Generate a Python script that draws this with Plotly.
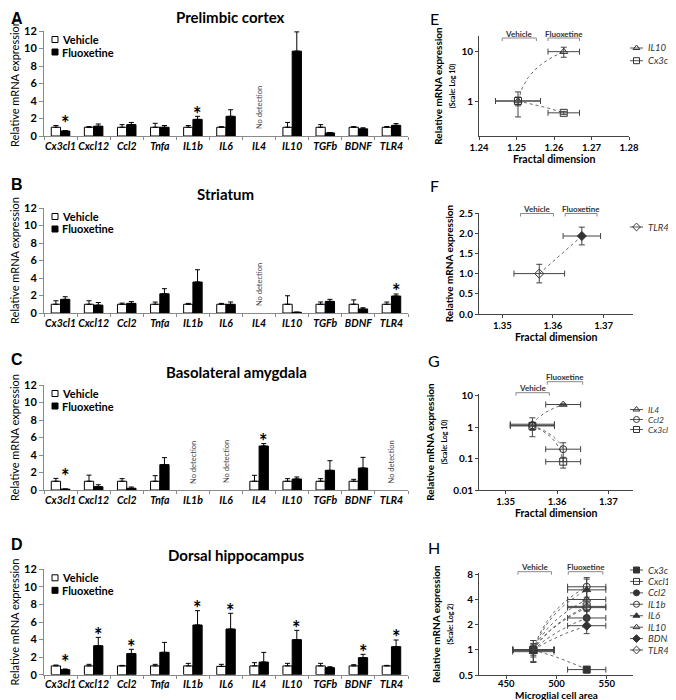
import numpy as np
import plotly.graph_objects as go

W, H = 676, 700          # reference canvas (pixels)
OFF = 8                   # page body margin in the browser
FW, FH = W - OFF, H - OFF  # figure size placed inside the page margin
FONT = "Lato"

# ---------------- DATA ----------------
genes = ["Cx3cl1", "Cxcl12", "Ccl2", "Tnfa", "IL1b", "IL6", "IL4", "IL10", "TGFb", "BDNF", "TLR4"]

# A - Prelimbic cortex (None = no detection)
pl_vehicle     = [1.0, 1.0, 1.0, 1.0, 1.0, 1.0, None, 1.0, 1.0, 1.0, 1.0]
pl_vehicle_sem = [0.2, 0.07, 0.3, 0.45, 0.2, 0.06, None, 0.55, 0.3, 0.07, 0.08]
pl_fluox       = [0.57, 1.12, 1.3, 1.0, 1.9, 2.25, None, 9.7, 0.35, 0.82, 1.22]
pl_fluox_sem   = [0.05, 0.25, 0.25, 0.2, 0.35, 0.75, None, 2.2, 0.05, 0.12, 0.2]
pl_signif      = ["Cx3cl1", "IL1b", "IL10"]

# B - Striatum
st_vehicle     = [1.0, 1.0, 1.0, 1.0, 1.0, 1.0, None, 1.0, 1.0, 1.0, 1.0]
st_vehicle_sem = [0.4, 0.4, 0.13, 0.25, 0.1, 0.1, None, 0.97, 0.26, 0.5, 0.25]
st_fluox       = [1.56, 0.9, 1.1, 2.2, 3.54, 0.99, None, 0.08, 1.33, 0.46, 1.94]
st_fluox_sem   = [0.3, 0.3, 0.2, 0.58, 1.4, 0.27, None, 0.02, 0.23, 0.14, 0.23]
st_signif      = ["TLR4"]

# C - Basolateral amygdala
bla_vehicle     = [1.0, 1.0, 1.0, 1.0, None, None, 1.0, 1.0, 1.0, 1.0, None]
bla_vehicle_sem = [0.33, 0.7, 0.3, 0.64, None, None, 0.68, 0.3, 0.3, 0.22, None]
bla_fluox       = [0.1, 0.38, 0.2, 2.9, None, None, 5.03, 1.26, 2.25, 2.51, None]
bla_fluox_sem   = [0.02, 0.22, 0.14, 0.8, None, None, 0.27, 0.23, 1.1, 1.22, None]
bla_signif      = ["Cx3cl1", "IL4"]

# D - Dorsal hippocampus
dh_vehicle     = [1.0, 1.0, 1.0, 1.0, 1.0, 0.95, 1.0, 1.0, 1.0, 1.0, 1.0]
dh_vehicle_sem = [0.1, 0.18, 0.06, 0.18, 0.29, 0.23, 0.37, 0.29, 0.29, 0.14, 0.06]
dh_fluox       = [0.57, 3.3, 2.4, 2.55, 5.66, 5.2, 1.44, 3.99, 0.8, 1.94, 3.19]
dh_fluox_sem   = [0.08, 0.95, 0.49, 1.13, 1.63, 1.79, 1.1, 1.06, 0.11, 0.38, 0.76]
dh_signif      = ["Cx3cl1", "Cxcl12", "Ccl2", "IL1b", "IL6", "IL10", "BDNF", "TLR4"]

# E - Prelimbic cortex: fractal dimension (vehicle, fluoxetine)
e_genes = ["IL10", "Cx3cl1"]
e_fd, e_fd_sem = [1.2504, 1.2626], [0.006, 0.0042]
e_vehicle, e_vehicle_sem = [1.0, 1.0], [0.52, 0.2]
e_fluox, e_fluox_sem = [9.7, 0.58], [2.2, 0.04]

# F - Striatum: fractal dimension
f_genes = ["TLR4"]
f_fd, f_fd_sem = [1.3573, 1.3657], [0.005, 0.0037]
f_vehicle, f_vehicle_sem = [1.0], [0.23]
f_fluox, f_fluox_sem = [1.93], [0.22]

# G - Basolateral amygdala: fractal dimension
g_genes = ["IL4", "Ccl2", "Cx3cl1"]
g_fd, g_fd_sem = [1.3552, 1.3612], [0.0043, 0.0034]
g_vehicle, g_vehicle_sem = [1.25, 1.15, 1.1], [0.75, 0.3, 0.3]
g_fluox, g_fluox_sem = [5.3, 0.2, 0.08], [0.3, 0.12, 0.03]

# H - Dorsal hippocampus: microglial cell area
h_genes = ["Cx3cl1", "Cxcl12", "Ccl2", "IL1b", "IL6", "IL10", "BDNF", "TLR4"]
h_area, h_area_sem = [477, 530], [20.5, 19]
h_vehicle = [1.0, 1.0, 1.0, 1.0, 0.95, 1.0, 1.0, 1.0]
h_vehicle_sem = [0.1, 0.18, 0.06, 0.29, 0.23, 0.29, 0.14, 0.06]
h_fluox = [0.58, 3.3, 2.4, 5.66, 5.2, 3.99, 1.94, 3.19]
h_fluox_sem = [0.05, 0.95, 0.49, 1.63, 1.79, 1.06, 0.38, 0.76]

# ---------------- LAYOUT GEOMETRY (reference pixels) ----------------
def PX(x): return (x - OFF) / FW
def PY(y): return 1 - (y - OFF) / FH
def ydom(top, bottom): return [PY(bottom), PY(top)]

BARGAP = 0.44
bar_left, bar_right = 44, 408
bar_panels = [
    dict(letter="A", title="Prelimbic cortex", veh=pl_vehicle, veh_sem=pl_vehicle_sem, fl=pl_fluox, fl_sem=pl_fluox_sem,
         sig=pl_signif, box=(31, 136), title_xy=(230, 17), letter_xy=(8.5, 18)),
    dict(letter="B", title="Striatum", veh=st_vehicle, veh_sem=st_vehicle_sem, fl=st_fluox, fl_sem=st_fluox_sem,
         sig=st_signif, box=(208, 313), title_xy=(225, 194), letter_xy=(8.5, 184)),
    dict(letter="C", title="Basolateral amygdala", veh=bla_vehicle, veh_sem=bla_vehicle_sem, fl=bla_fluox, fl_sem=bla_fluox_sem,
         sig=bla_signif, box=(385, 490), title_xy=(236, 372), letter_xy=(8.5, 359)),
    dict(letter="D", title="Dorsal hippocampus", veh=dh_vehicle, veh_sem=dh_vehicle_sem, fl=dh_fluox, fl_sem=dh_fluox_sem,
         sig=dh_signif, box=(569.3, 674.7), title_xy=(236, 555), letter_xy=(8.5, 544)),
]

annotations, shapes = [], []


def ann(x, y, text, size, bold=False, italic=False, color="black", family=FONT, xref="paper", yref="paper", **kw):
    annotations.append(dict(x=x, y=y, xref=xref, yref=yref, text=text, showarrow=False,
                            font=dict(family=family, size=size, color=color,
                                      weight="bold" if bold else "normal",
                                      style="italic" if italic else "normal"), **kw))


fig = go.Figure()
axes = {}


def clean(v):
    return [0 if a is None else a for a in v]


# ---------------- BAR PANELS A-D ----------------
for k, p in enumerate(bar_panels):
    n = "" if k == 0 else str(k + 1)
    for name, vals, sem, fill in (("Vehicle", p["veh"], p["veh_sem"], "white"),
                                  ("Fluoxetine", p["fl"], p["fl_sem"], "black")):
        fig.add_trace(go.Bar(
            x=genes, y=vals, name=name, xaxis="x" + n, yaxis="y" + n, showlegend=False,
            marker=dict(color=fill, line=dict(color="black", width=1)),
            error_y=dict(type="data", symmetric=False, array=clean(sem), arrayminus=[0] * len(genes),
                         color="black", thickness=1, width=2.5)))
    top, bottom = p["box"]
    axes["xaxis" + n] = dict(domain=[PX(bar_left), PX(bar_right)], anchor="y" + n, type="category",
                             categoryorder="array", categoryarray=genes, range=[-0.5, len(genes) - 0.5],
                             showline=True, linecolor="#8a8a8a", linewidth=1, ticks="outside", tickson="boundaries",
                             ticklen=3, tickcolor="#8a8a8a", showgrid=False, zeroline=False, tickangle=0,
                             tickfont=dict(family=FONT, size=10.5, color="black", weight="bold", style="italic"))
    axes["yaxis" + n] = dict(domain=ydom(top, bottom), anchor="x" + n, range=[0, 12], tickvals=list(range(0, 13, 2)),
                             showline=True, linecolor="#8a8a8a", linewidth=1, ticks="outside", ticklen=4,
                             tickcolor="#8a8a8a", showgrid=False, zeroline=False,
                             tickfont=dict(family=FONT, size=11, color="black", weight="bold"),
                             title=dict(text="Relative mRNA expression", standoff=4,
                                        font=dict(family=FONT, size=11, color="black")))
    ann(PX(p["title_xy"][0]), PY(p["title_xy"][1]), p["title"], 15, bold=True, xanchor="center", yanchor="middle")
    ann(PX(p["letter_xy"][0]), PY(p["letter_xy"][1]), p["letter"], 16, bold=True, family="Liberation Sans",
        xanchor="left", yanchor="middle")
    fl_offset = (1 - BARGAP) / 4
    for g in p["sig"]:
        i = genes.index(g)
        top_val = max(p["fl"][i] + p["fl_sem"][i], p["veh"][i] + p["veh_sem"][i])
        ann(i + fl_offset, top_val + 0.3, "*", 20, bold=True, xref="x" + n, yref="y" + n,
            xanchor="center", yanchor="middle")
    for i, v in enumerate(p["veh"]):
        if v is None:
            ann(i, 3.2, "No detection", 7.5, color="#444", xref="x" + n, yref="y" + n, textangle=-90,
                xanchor="center", yanchor="middle")
    fig.add_trace(go.Scatter(x=[55, 55], y=[top + 8.5, top + 21], mode="markers", xaxis="x9", yaxis="y9",
                             showlegend=False, hoverinfo="skip",
                             marker=dict(symbol="square", size=6, color=["white", "black"],
                                         line=dict(color="black", width=1))))
    ann(PX(59.5), PY(top + 8.5), "Vehicle", 11, bold=True, xanchor="left", yanchor="middle")
    ann(PX(59.5), PY(top + 21), "Fluoxetine", 11, bold=True, xanchor="left", yanchor="middle")

# ---------------- SCATTER PANELS E-H ----------------
DARK = "#333333"
scatter_panels = [
    dict(letter="E", n="5", genes=e_genes, xv=e_fd, xs=e_fd_sem, veh=e_vehicle, veh_sem=e_vehicle_sem,
         fl=e_fluox, fl_sem=e_fluox_sem, symbols=["triangle-up-open", "square-open"],
         box=(479, 629, 36, 136), xrange=[1.24, 1.28], xticks=[1.24, 1.25, 1.26, 1.27, 1.28], xfmt=".2f",
         ylog=True, yrange=[-0.7, 1.3], yticks=[1, 10], yticktext=["1", "10"], ysub="(Scale: Log 10)",
         xtitle="Fractal dimension", xtitle_y=159, xticklen=3, xlabel_shift=0, letter_xy=(434, 18),
         legend_y0=48, legend_dy=12.7, legend_font=9.5,
         brackets=[("Vehicle", 1.2462, 1.2553, 38), ("Fluoxetine", 1.2584, 1.2668, 38)]),
    dict(letter="F", n="6", genes=f_genes, xv=f_fd, xs=f_fd_sem, veh=f_vehicle, veh_sem=f_vehicle_sem,
         fl=f_fluox, fl_sem=f_fluox_sem, symbols=["diamond-open"],
         box=(479, 633, 213, 314), xrange=[1.3454, 1.3758], xticks=[1.35, 1.36, 1.37], xfmt=".2f",
         ylog=False, yrange=[0, 2.5], yticks=[0, 0.5, 1.0, 1.5, 2.0, 2.5], yticktext=None, ysub=None,
         xtitle="Fractal dimension", xtitle_y=337, xticklen=3, xlabel_shift=0, letter_xy=(434, 185),
         legend_y0=227, legend_dy=12, legend_font=9.5,
         brackets=[("Vehicle", 1.3536, 1.3601, 213.5), ("Fluoxetine", 1.3624, 1.3687, 213.5)]),
    dict(letter="G", n="7", genes=g_genes, xv=g_fd, xs=g_fd_sem, veh=g_vehicle, veh_sem=g_vehicle_sem,
         fl=g_fluox, fl_sem=g_fluox_sem, symbols=["triangle-up-open", "circle-open", "square-open"],
         box=(479, 633, 394, 490), xrange=[1.3448, 1.3748], xticks=[1.35, 1.36, 1.37], xfmt=".2f",
         ylog=True, yrange=[-2, 1.06], yticks=[0.01, 0.1, 1, 10], yticktext=["0.01", "0.1", "1", "10"],
         ysub="(Scale: Log 10)", xtitle="Fractal dimension", xtitle_y=513, xticklen=3, xlabel_shift=0,
         letter_xy=(434, 360), legend_y0=409.5, legend_dy=10, legend_font=8.5,
         brackets=[("Vehicle", 1.3520, 1.3585, 392.7), ("Fluoxetine", 1.3581, 1.3650, 381.7)]),
    dict(letter="H", n="8", genes=h_genes, xv=h_area, xs=h_area_sem, veh=h_vehicle, veh_sem=h_vehicle_sem,
         fl=h_fluox, fl_sem=h_fluox_sem,
         symbols=["square", "square-open", "circle", "circle-open", "triangle-up", "triangle-up-open",
                  "diamond", "diamond-open"],
         box=(479, 633, 573.3, 675), xrange=[423, 576], xticks=[450, 500, 550], xfmt="d",
         ylog=True, yrange=[np.log10(0.5), np.log10(8.2)], yticks=[0.5, 1, 2, 4, 8],
         yticktext=["0.5", "1", "2", "4", "8"], ysub="(Scale: Log 2)", xtitle="Microglial cell area",
         xtitle_y=694.5, xticklen=3, xlabel_shift=-3, letter_xy=(434, 547),
         legend_y0=570, legend_dy=11.43, legend_font=9.5,
         brackets=[("Vehicle", 461.7, 495, 571.7), ("Fluoxetine", 511.7, 546, 571.7)]),
]

for p in scatter_panels:
    n = p["n"]
    x0, x1, top, bottom = p["box"]
    # straight connectors between the vehicle and fluoxetine means (drawn in linear space)
    for j, g in enumerate(p["genes"]):
        seg_x = np.linspace(p["xv"][0], p["xv"][1], 60)
        seg_y = p["veh"][j] + (p["fl"][j] - p["veh"][j]) * (seg_x - p["xv"][0]) / (p["xv"][1] - p["xv"][0])
        fig.add_trace(go.Scatter(x=seg_x, y=seg_y, mode="lines", xaxis="x" + n, yaxis="y" + n,
                                 showlegend=False, hoverinfo="skip",
                                 line=dict(color="#666666", width=1, dash="dot")))
    for j, g in enumerate(p["genes"]):
        sym = p["symbols"][j]
        point_syms = [sym, sym.replace("-open", "")] if p["letter"] == "F" else [sym, sym]
        fig.add_trace(go.Scatter(
            x=p["xv"], y=[p["veh"][j], p["fl"][j]], mode="markers", name=g, xaxis="x" + n, yaxis="y" + n,
            showlegend=False,
            marker=dict(symbol=point_syms, size=7, color=DARK, line=dict(color=DARK, width=1)),
            error_x=dict(type="data", array=p["xs"], color="#444", thickness=1, width=3),
            error_y=dict(type="data", array=[p["veh_sem"][j], p["fl_sem"][j]], color="#444", thickness=1, width=3)))
        ly = p["legend_y0"] + j * p["legend_dy"]
        fig.add_trace(go.Scatter(x=[630, 643], y=[ly, ly], mode="lines", xaxis="x9", yaxis="y9",
                                 showlegend=False, hoverinfo="skip", line=dict(color="#555", width=1)))
        fig.add_trace(go.Scatter(x=[636.5], y=[ly], mode="markers", xaxis="x9", yaxis="y9",
                                 showlegend=False, hoverinfo="skip",
                                 marker=dict(symbol=sym, size=6, color=DARK, line=dict(color=DARK, width=1))))
        ann(PX(647), PY(ly), g, p["legend_font"], italic=True, color="#333", xanchor="left", yanchor="middle",
            borderpad=0)

    ytitle = "Relative mRNA expression"
    if p["ysub"]:
        ytitle += "<br><span style='font-size:7px'>" + p["ysub"] + "</span>"
    axes["xaxis" + n] = dict(domain=[PX(x0), PX(x1)], anchor="y" + n, range=p["xrange"], tickvals=p["xticks"],
                             tickformat=p["xfmt"], showline=True, linecolor="#444", linewidth=1, ticks="outside",
                             ticklen=p["xticklen"], tickcolor="#444", showgrid=False, zeroline=False,
                             ticklabelstandoff=p["xlabel_shift"],
                             tickfont=dict(family=FONT, size=9.5, color="black", weight="bold"))
    ann(PX((x0 + x1) / 2), PY(p["xtitle_y"]), p["xtitle"], 10 if p["letter"] == "H" else 10.5, bold=True,
        xanchor="center", yanchor="middle", borderpad=0)
    yax = dict(domain=ydom(top, bottom), anchor="x" + n, range=p["yrange"], tickvals=p["yticks"],
               showline=True, linecolor="#444", linewidth=1, ticks="outside", ticklen=3, tickcolor="#444",
               showgrid=False, zeroline=False,
               tickfont=dict(family=FONT, size=10, color="black", weight="bold"),
               title=dict(text=ytitle, standoff=3, font=dict(family=FONT, size=10, color="black", weight="bold")))
    if p["ylog"]:
        yax["type"] = "log"
        yax["ticktext"] = p["yticktext"]
    else:
        yax["tickformat"] = ".1f"
    axes["yaxis" + n] = yax

    ann(PX(p["letter_xy"][0]), PY(p["letter_xy"][1]), p["letter"], 16, xanchor="center", yanchor="middle")
    for label, bx0, bx1, by in p["brackets"]:
        shapes.append(dict(type="path", xref="x" + n, yref="paper", layer="above",
                           path=f"M {bx0},{PY(by + 3)} L {bx0},{PY(by)} L {bx1},{PY(by)} L {bx1},{PY(by + 3)}",
                           line=dict(color="#888", width=1)))
        annotations.append(dict(x=(bx0 + bx1) / 2, y=PY(by - 4.5), xref="x" + n, yref="paper", text=label,
                                showarrow=False, xanchor="center", yanchor="middle",
                                font=dict(family=FONT, size=8, color="#333", weight="bold")))

# pixel overlay axis used only for legend keys
axes["xaxis9"] = dict(domain=[0, 1], range=[OFF, W], visible=False, anchor="y9", fixedrange=True)
axes["yaxis9"] = dict(domain=[0, 1], range=[H, OFF], visible=False, anchor="x9", fixedrange=True)

fig.update_layout(
    width=FW, height=FH, margin=dict(l=0, r=0, t=0, b=0, autoexpand=False),
    paper_bgcolor="white", plot_bgcolor="rgba(0,0,0,0)",
    barmode="group", bargap=BARGAP, bargroupgap=0,
    showlegend=False, font=dict(family=FONT, color="black"),
    annotations=annotations, shapes=shapes, **axes)

fig.write_html("out.html")
